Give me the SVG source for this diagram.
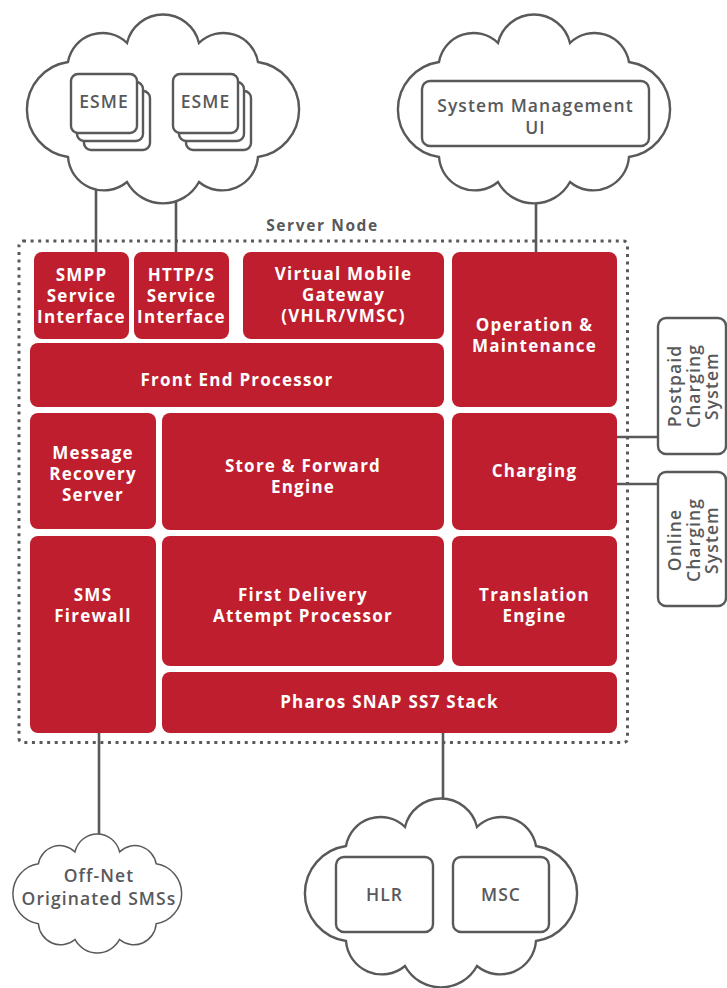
<svg xmlns="http://www.w3.org/2000/svg" xmlns:xlink="http://www.w3.org/1999/xlink" width="727" height="988" viewBox="0 0 727 988">
<style>
.blk{fill:#be1e2d}
.wt{fill:#fff;font-family:"Open Sans","DejaVu Sans",sans-serif;font-weight:700;font-size:17px;letter-spacing:1.25px;text-anchor:middle}
.gt{fill:#58595b;font-family:"Open Sans","DejaVu Sans",sans-serif;font-weight:600;font-size:17.5px;letter-spacing:1.1px;text-anchor:middle}
.ob{fill:#fff;stroke:#58595b;stroke-width:2.4}
.cl{fill:#fff;stroke:#58595b;stroke-width:2.4;vector-effect:non-scaling-stroke}
.ln{stroke:#58595b;stroke-width:2.6;fill:none}
</style>
<defs>
<path id="cloud" d="M49,49 A35,35 0 0 1 108,30 A37,37 0 0 1 180,30 A35,35 0 0 1 239,49 A48,48 0 0 1 239,144 A36,36 0 0 1 180,169 A41,41 0 0 1 108,169 A36,36 0 0 1 49,144 A48,48 0 0 1 49,49 Z"/>
</defs>
<rect width="727" height="988" fill="#fff"/>

<g id="connectors">
<line class="ln" x1="96" y1="190" x2="96" y2="253"/>
<line class="ln" x1="176" y1="201" x2="176" y2="253"/>
<line class="ln" x1="536" y1="203" x2="536" y2="253"/>
<line class="ln" x1="99" y1="732" x2="99" y2="834"/>
<line class="ln" x1="443" y1="732" x2="443" y2="798"/>
<line class="ln" x1="616" y1="437" x2="659" y2="437"/>
<line class="ln" x1="616" y1="484" x2="659" y2="484"/>
</g>

<g id="server-node">
<rect x="19" y="241" width="608.5" height="501.5" rx="4" fill="none" stroke="#58595b" stroke-width="3" stroke-dasharray="3 4.6"/>
<text class="gt" x="322.5" y="231" style="font-size:15.5px;font-weight:700;letter-spacing:1.6px">Server Node</text>
</g>

<g id="esme-cloud">
<use xlink:href="#cloud" class="cl" transform="translate(19,13)"/>
<g id="esme1">
<rect class="ob" x="84" y="91" width="66" height="59" rx="7"/>
<rect class="ob" x="77" y="82" width="66" height="59" rx="7"/>
<rect class="ob" x="71" y="74" width="66" height="59" rx="7"/>
<text class="gt" x="104" y="108">ESME</text>
</g>
<g id="esme2">
<rect class="ob" x="186" y="91" width="65" height="59" rx="7"/>
<rect class="ob" x="179" y="82" width="65" height="59" rx="7"/>
<rect class="ob" x="173" y="74" width="65" height="59" rx="7"/>
<text class="gt" x="205.5" y="108">ESME</text>
</g>
</g>

<g id="sysmgmt-cloud">
<use xlink:href="#cloud" class="cl" transform="translate(390,13)"/>
<g id="sysmgmt">
<rect class="ob" x="422" y="81" width="227" height="65" rx="8"/>
<text class="gt" x="535.5" y="112">System Management</text>
<text class="gt" x="535.5" y="134">UI</text>
</g>
</g>

<g id="smpp">
<rect class="blk" x="34" y="252" width="95" height="87" rx="8"/>
<text class="wt" x="81.5" y="281">SMPP</text>
<text class="wt" x="81.5" y="302">Service</text>
<text class="wt" x="81.5" y="323">Interface</text>
</g>
<g id="https">
<rect class="blk" x="134" y="252" width="95" height="87" rx="8"/>
<text class="wt" x="181.5" y="281">HTTP/S</text>
<text class="wt" x="181.5" y="302">Service</text>
<text class="wt" x="181.5" y="323">Interface</text>
</g>
<g id="vmg">
<rect class="blk" x="243" y="252" width="201" height="87" rx="8"/>
<text class="wt" x="343.5" y="280">Virtual Mobile</text>
<text class="wt" x="343.5" y="301">Gateway</text>
<text class="wt" x="343.5" y="322">(VHLR/VMSC)</text>
</g>
<g id="om">
<rect class="blk" x="452" y="252" width="165" height="155" rx="8"/>
<text class="wt" x="534.5" y="331">Operation &amp;</text>
<text class="wt" x="534.5" y="352">Maintenance</text>
</g>
<g id="fep">
<rect class="blk" x="30" y="343" width="414" height="64" rx="8"/>
<text class="wt" x="237" y="386">Front End Processor</text>
</g>
<g id="mrs">
<rect class="blk" x="30" y="413" width="126" height="116" rx="8"/>
<text class="wt" x="93" y="459">Message</text>
<text class="wt" x="93" y="480">Recovery</text>
<text class="wt" x="93" y="501">Server</text>
</g>
<g id="sfe">
<rect class="blk" x="162" y="413" width="282" height="117" rx="8"/>
<text class="wt" x="303" y="472">Store &amp; Forward</text>
<text class="wt" x="303" y="493">Engine</text>
</g>
<g id="charging">
<rect class="blk" x="452" y="413" width="165" height="117" rx="8"/>
<text class="wt" x="534.5" y="477">Charging</text>
</g>
<g id="firewall">
<rect class="blk" x="30" y="536" width="126" height="197" rx="8"/>
<text class="wt" x="93" y="601">SMS</text>
<text class="wt" x="93" y="622">Firewall</text>
</g>
<g id="fdap">
<rect class="blk" x="162" y="536" width="282" height="130" rx="8"/>
<text class="wt" x="303" y="601">First Delivery</text>
<text class="wt" x="303" y="622">Attempt Processor</text>
</g>
<g id="translation">
<rect class="blk" x="452" y="536" width="165" height="130" rx="8"/>
<text class="wt" x="534.5" y="601">Translation</text>
<text class="wt" x="534.5" y="622">Engine</text>
</g>
<g id="pharos">
<rect class="blk" x="162" y="672" width="455" height="61" rx="8"/>
<text class="wt" x="389.5" y="708">Pharos SNAP SS7 Stack</text>
</g>

<g id="postpaid">
<rect class="ob" x="658" y="318" width="68" height="136" rx="8"/>
<text class="gt" transform="translate(692,386) rotate(-90)"><tspan x="0" y="-11">Postpaid</tspan><tspan x="0" y="7.5">Charging</tspan><tspan x="0" y="26">System</tspan></text>
</g>
<g id="online">
<rect class="ob" x="658" y="472" width="68" height="134" rx="8"/>
<text class="gt" transform="translate(692,540) rotate(-90)"><tspan x="0" y="-11">Online</tspan><tspan x="0" y="7.5">Charging</tspan><tspan x="0" y="26">System</tspan></text>
</g>

<g id="offnet-cloud">
<use xlink:href="#cloud" class="cl" transform="translate(8,833) scale(0.62,0.63)"/>
<text class="gt" x="99" y="882">Off-Net</text>
<text class="gt" x="99" y="905">Originated SMSs</text>
</g>

<g id="network-cloud">
<use xlink:href="#cloud" class="cl" transform="translate(297,797)"/>
<g id="hlr">
<rect class="ob" x="336" y="857" width="97" height="75" rx="8"/>
<text class="gt" x="384.5" y="901">HLR</text>
</g>
<g id="msc">
<rect class="ob" x="453" y="857" width="96" height="75" rx="8"/>
<text class="gt" x="501" y="901">MSC</text>
</g>
</g>
</svg>
